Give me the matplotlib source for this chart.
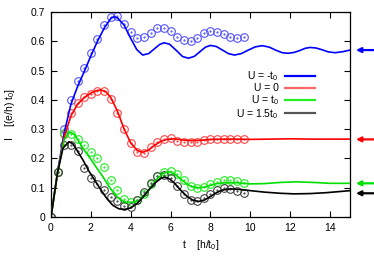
import matplotlib
matplotlib.use('Agg')
import matplotlib.pyplot as plt
from matplotlib.lines import Line2D

plt.rcParams['font.family'] = ['Liberation Sans', 'DejaVu Sans']
plt.rcParams['mathtext.fontset'] = 'custom'
plt.rcParams['mathtext.rm'] = 'Liberation Sans'
plt.rcParams['mathtext.it'] = 'Liberation Sans'

# time points of the circles (exact calculation)
t_pts = [0, 0.33, 0.67, 1.0, 1.33, 1.67, 2.0, 2.33, 2.67, 3.0, 3.33, 3.67, 4.0, 4.33, 4.67,
         5.0, 5.33, 5.67, 6.0, 6.33, 6.67, 7.0, 7.33, 7.67, 8.0, 8.33, 8.67, 9.0, 9.33, 9.67]
blue_pts = [0, .155, .30, .40, .464, .51, .56, .608, .655, .684, .686, .66, .63, .612, .613,
            .627, .644, .646, .635, .615, .603, .60, .612, .627, .635, .631, .624, .613, .61, .613]
red_pts = [0, .152, .285, .356, .39, .409, .42, .431, .431, .403, .356, .30, .252, .223, .22,
           .238, .255, .265, .269, .26, .255, .255, .257, .263, .265, .265, .265, .265, .265, .265]
green_pts = [0, .152, .287, .285, .268, .247, .222, .202, .172, .126, .092, .061, .052, .059, .08,
             .113, .14, .155, .156, .146, .128, .107, .098, .103, .112, .12, .125, .126, .124, .117]
black_pts = [0, .152, .245, .247, .225, .166, .132, .112, .093, .069, .055, .038, .035, .058, .086,
             .116, .139, .143, .132, .105, .078, .059, .054, .064, .079, .093, .098, .096, .09, .081]

# approximate curves
blue_t = [0, 0.33, 0.67, 1.0, 1.33, 1.67, 2.0, 2.33, 2.67, 3.0, 3.15, 3.33, 3.67, 4.0, 4.3, 4.6,
          4.9, 5.2, 5.45, 5.67, 5.95, 6.3, 6.6, 6.9, 7.2, 7.5, 7.75, 8.0, 8.3, 8.6, 8.9, 9.2,
          9.55, 9.9, 10.25, 10.6, 10.95, 11.3, 11.6, 11.9, 12.2, 12.5, 12.75, 13.0, 13.3, 13.6,
          13.9, 14.25, 14.6, 15]
blue_I = [0, .155, .29, .385, .445, .497, .55, .6, .645, .678, .684, .68, .655, .61, .572, .553,
          .558, .575, .589, .595, .59, .568, .548, .542, .549, .566, .58, .586, .582, .57, .558, .553,
          .558, .57, .581, .585, .58, .569, .561, .559, .562, .569, .576, .579, .577, .571,
          .564, .561, .564, .57]
red_t = [0, 0.33, 0.67, 1.0, 1.33, 1.67, 2.0, 2.25, 2.5, 2.75, 3.0, 3.33, 3.67, 4.0, 4.33, 4.6,
         4.9, 5.2, 5.5, 5.8, 6.2, 6.6, 7.0, 7.5, 8.0, 9.0, 10.0, 11.0, 12.0, 13.0, 14.0, 15.0]
red_I = [0, .152, .275, .345, .385, .408, .423, .431, .434, .428, .408, .362, .3, .253, .227, .221,
         .229, .245, .258, .265, .267, .263, .261, .262, .265, .266, .265, .266, .267, .266, .266, .266]
green_t = [0, 0.33, 0.67, 0.85, 1.0, 1.2, 1.4, 1.7, 2.0, 2.3, 2.6, 2.9, 3.2, 3.5, 3.8, 4.1, 4.4,
           4.7, 5.0, 5.3, 5.6, 5.9, 6.2, 6.5, 6.8, 7.1, 7.4, 7.7, 8.0, 8.3, 8.7, 9.3, 10.0, 10.7,
           11.5, 12.3, 13.2, 14.0, 15]
green_I = [0, .152, .265, .285, .289, .28, .257, .225, .197, .167, .138, .105, .077, .058, .05, .05, .056,
           .072, .1, .128, .148, .155, .147, .13, .113, .103, .1, .102, .108, .114, .117, .117, .113, .114,
           .118, .12, .118, .115, .115]
black_t = [0, 0.33, 0.6, 0.9, 1.1, 1.3, 1.6, 1.9, 2.2, 2.5, 2.8, 3.1, 3.4, 3.7, 4.0, 4.3, 4.6, 4.9,
           5.2, 5.5, 5.7, 5.95, 6.2, 6.5, 6.8, 7.1, 7.4, 7.7, 8.0, 8.3, 8.6, 9.0, 9.5, 10.0, 10.7,
           11.5, 12.2, 13.0, 13.8, 14.5, 15]
black_I = [0, .152, .235, .257, .25, .228, .195, .157, .125, .093, .063, .04, .028, .026, .031, .045, .067, .092,
           .115, .132, .136, .13, .115, .092, .072, .058, .053, .058, .07, .083, .092, .096, .094, .09, .085,
           .081, .079, .08, .083, .087, .09]

# long-time limits marked by the arrows
steady = [0.570, 0.265, 0.115, 0.081]

labels = ['U = -t$_0$', 'U = 0', 'U = t$_0$', 'U = 1.5t$_0$']
line_colors = ['#0000ff', '#ff0000', '#00e000', '#000000']
circ_colors = ['#5555ff', '#ff4444', '#22ee22', '#444444']
leg_colors = ['#0000ff', '#ff6666', '#22ee22', '#555555']

fig = plt.figure(figsize=(3.74, 2.62), dpi=100)
ax = fig.add_axes([51 / 374, 45 / 262, 299 / 374, 205 / 262])

curves = [(blue_t, blue_I, blue_pts), (red_t, red_I, red_pts),
          (green_t, green_I, green_pts), (black_t, black_I, black_pts)]
for (tt, ii, pts), lc, cc in zip(curves, line_colors, circ_colors):
    ax.plot(tt, ii, color=lc, lw=1.2, zorder=3)
    ax.plot(t_pts, pts, 'o', mfc='none', mec=cc, ms=5.5, mew=0.8, zorder=2)
    ax.plot(t_pts, pts, '.', color=cc, ms=1.2, zorder=2)

for val, lc in zip(steady, line_colors):
    ax.annotate('', xy=(1.02, val), xycoords=ax.get_yaxis_transform(),
                xytext=(1.083, val), textcoords=ax.get_yaxis_transform(),
                arrowprops=dict(arrowstyle='-|>', color=lc, lw=1.6, mutation_scale=7,
                                shrinkA=0, shrinkB=0),
                annotation_clip=False)

ax.set_xlim(0, 15)
ax.set_ylim(0, 0.7)
ax.set_xticks([0, 2, 4, 6, 8, 10, 12, 14])
ax.set_yticks([0, 0.1, 0.2, 0.3, 0.4, 0.5, 0.6, 0.7])
ax.set_yticklabels(['0', '0.1', '0.2', '0.3', '0.4', '0.5', '0.6', '0.7'])
ax.tick_params(direction='in', top=True, right=True, length=4, width=0.8,
               labelsize=7.5, pad=4)
for s in ax.spines.values():
    s.set_linewidth(0.9)

ax.set_xlabel('t    [h/t$_0$]', fontsize=7.5, labelpad=4)
ax.set_ylabel('I    [(e/h) t$_0$]', fontsize=7.5, labelpad=10)

handles = [Line2D([], [], color=c, lw=1.6) for c in leg_colors]
ax.legend(handles, labels, markerfirst=False, frameon=False, fontsize=7.5,
          loc='upper right', bbox_to_anchor=(0.883, 0.72), handlelength=2.9,
          handletextpad=0.6, labelspacing=0.0, borderpad=0, borderaxespad=0)

fig.savefig('out.png', dpi=100)
